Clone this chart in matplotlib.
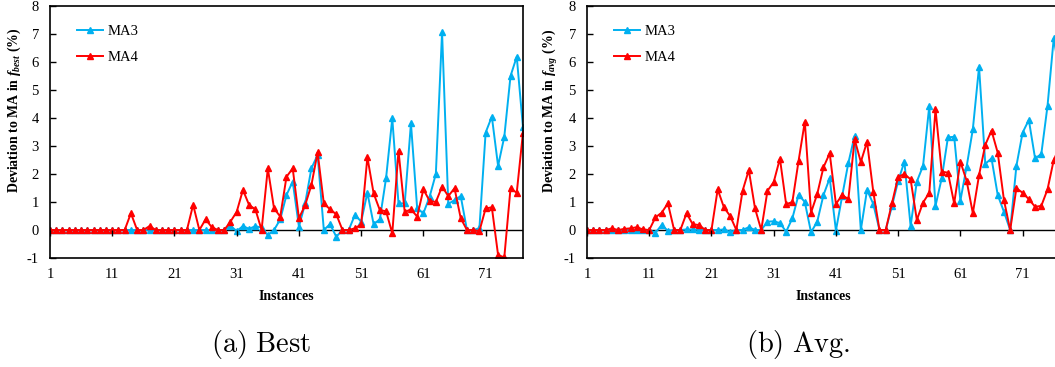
import matplotlib
matplotlib.use("Agg")
import matplotlib.pyplot as plt
import numpy as np

# deviation (%) of MA3 / MA4 relative to MA, per instance
instancias = list(range(1, 78))

best_ma3 = [0, 0, 0, 0, 0, 0, 0, 0, 0, 0,
            0, 0, 0, 0, 0, 0, 0, 0, 0, 0,
            0, 0, 0, 0, 0, 0, 0, 0, 0, 0.15,
            -0.04, 0.14, 0.04, 0.14, 0.08, -0.18, 0, 0.38, 1.25, 1.73,
            0.12, 0.95, 2.2, 2.68, 0, 0.21, -0.24, 0, 0, 0.54,
            0.3, 1.33, 0.21, 0.38, 1.85, 3.99, 0.95, 0.95, 3.81, 0.77,
            0.6, 1.19, 2.0, 7.06, 0.93, 1.07, 1.21, 0, 0, 0.06,
            3.48, 4.05, 2.29, 3.33, 5.5, 6.19, 3.67]

best_ma4 = [0, 0, 0, 0, 0, 0, 0, 0, 0, 0,
            0, 0, 0, 0.6, 0, 0, 0.14, 0, 0, 0,
            0, 0, 0, 0.9, 0, 0.38, 0.1, 0, 0, 0.3,
            0.65, 1.43, 0.89, 0.74, 0, 2.2, 0.77, 0.48, 1.9, 2.2,
            0.42, 0.89, 1.6, 2.77, 0.95, 0.74, 0.56, 0, 0, 0.06,
            0.2, 2.6, 1.31, 0.71, 0.67, -0.12, 2.83, 0.64, 0.74, 0.48,
            1.45, 1.04, 1.0, 1.55, 1.21, 1.49, 0.42, 0, 0, -0.04,
            0.77, 0.81, -0.89, -0.98, 1.49, 1.33, 3.48]

avg_ma3 = [0, 0, 0, 0, 0, 0, 0, 0, 0, 0,
           0, -0.1, 0.18, -0.03, 0, 0, 0.02, 0.02, 0, 0,
           0, 0, 0.02, -0.07, 0, 0, 0.1, 0, 0, 0.3,
           0.31, 0.25, -0.06, 0.42, 1.26, 1.0, -0.08, 0.3, 1.25, 1.85,
           -0.02, 1.21, 2.4, 3.36, 0, 1.43, 0.93, 0, 0, 0.85,
           1.75, 2.44, 0.14, 1.73, 2.29, 4.43, 0.86, 1.85, 3.31, 3.33,
           1.05, 2.26, 3.6, 5.83, 2.36, 2.56, 1.25, 0.65, 0, 2.29,
           3.48, 3.93, 2.56, 2.71, 4.43, 6.85, 5.5]

avg_ma4 = [0, 0, 0, 0, 0.06, 0, 0.04, 0.06, 0.1, 0.02,
           0, 0.45, 0.62, 0.95, 0, 0, 0.6, 0.2, 0.18, 0,
           0, 1.45, 0.81, 0.5, 0, 1.4, 2.14, 0.77, 0, 1.4,
           1.71, 2.55, 0.92, 1.0, 2.47, 3.87, 0.62, 1.29, 2.24, 2.74,
           0.93, 1.25, 1.1, 3.24, 2.43, 3.15, 1.37, 0, 0, 0.95,
           1.9, 2.0, 1.81, 0.36, 0.98, 1.33, 4.31, 2.08, 2.05, 0.95,
           2.44, 1.76, 0.6, 1.96, 3.04, 3.55, 2.76, 1.07, 0, 1.49,
           1.33, 1.1, 0.83, 0.86, 1.45, 2.5, 3.0]

xticks = [1, 11, 21, 31, 41, 51, 61, 71]
yticks = list(range(-1, 9))

COR_MA3 = "#00B0F0"
COR_MA4 = "#FF0000"

plt.rcParams["font.family"] = ["Liberation Serif", "DejaVu Serif"]
plt.rcParams["axes.unicode_minus"] = False
plt.rcParams["mathtext.fontset"] = "custom"
plt.rcParams["mathtext.rm"] = "Liberation Serif:bold"
plt.rcParams["mathtext.it"] = "Liberation Serif:italic:bold"
plt.rcParams["mathtext.bf"] = "Liberation Serif:bold"


def desenha(ax, ma3, ma4, sub, legenda):
    ax.plot(instancias, ma3, color=COR_MA3, lw=1.4, marker="^", ms=4.5, label="MA3")
    ax.plot(instancias, ma4, color=COR_MA4, lw=1.4, marker="^", ms=4.5, label="MA4")

    # eixo das categorias cruza em zero (estilo Excel)
    ax.axhline(0, color="black", lw=1.0, zorder=1)
    ax.plot(xticks, [0] * len(xticks), ls="none", marker=3, ms=4, color="black", mew=1.0)

    ax.set_xlim(1, 77)
    ax.set_ylim(-1, 8)
    ax.set_xticks(xticks)
    ax.set_yticks(yticks)
    ax.tick_params(axis="x", length=0, pad=7, labelsize=10.5)
    ax.tick_params(axis="y", direction="in", length=4, width=1, pad=8, labelsize=10.5)
    for s in ax.spines.values():
        s.set_linewidth(1.2)

    ax.set_xlabel("Instances", fontweight="bold", fontsize=10, labelpad=7)
    ax.set_ylabel("Deviation to MA in $f_{%s}$ (%%)" % sub, fontweight="bold", fontsize=10)
    ax.yaxis.set_label_coords(-0.058, 0.585)

    ax.legend(loc="upper left", bbox_to_anchor=(0.045, 0.95), frameon=False,
              fontsize=10.5, handlelength=1.8, handletextpad=0.3, labelspacing=0.9,
              borderaxespad=0)

    # legenda da subfigura, um pouco à esquerda do centro
    ax.text(0.447, -0.345, legenda, transform=ax.transAxes, ha="center", va="center",
            fontsize=20.5, math_fontfamily="cm")


def main():
    fig = plt.figure(figsize=(10.55, 3.67), dpi=100)
    ax1 = fig.add_axes([0.0474, 0.297, 0.4483, 0.6866])
    ax2 = fig.add_axes([0.5564, 0.297, 0.4483, 0.6866])

    desenha(ax1, best_ma3, best_ma4, "best", r"$\mathrm{(a)\ Best}$")
    desenha(ax2, avg_ma3, avg_ma4, "avg", r"$\mathrm{(b)\ Avg.}$")

    fig.savefig("out.png", dpi=100)


if __name__ == "__main__":
    main()
